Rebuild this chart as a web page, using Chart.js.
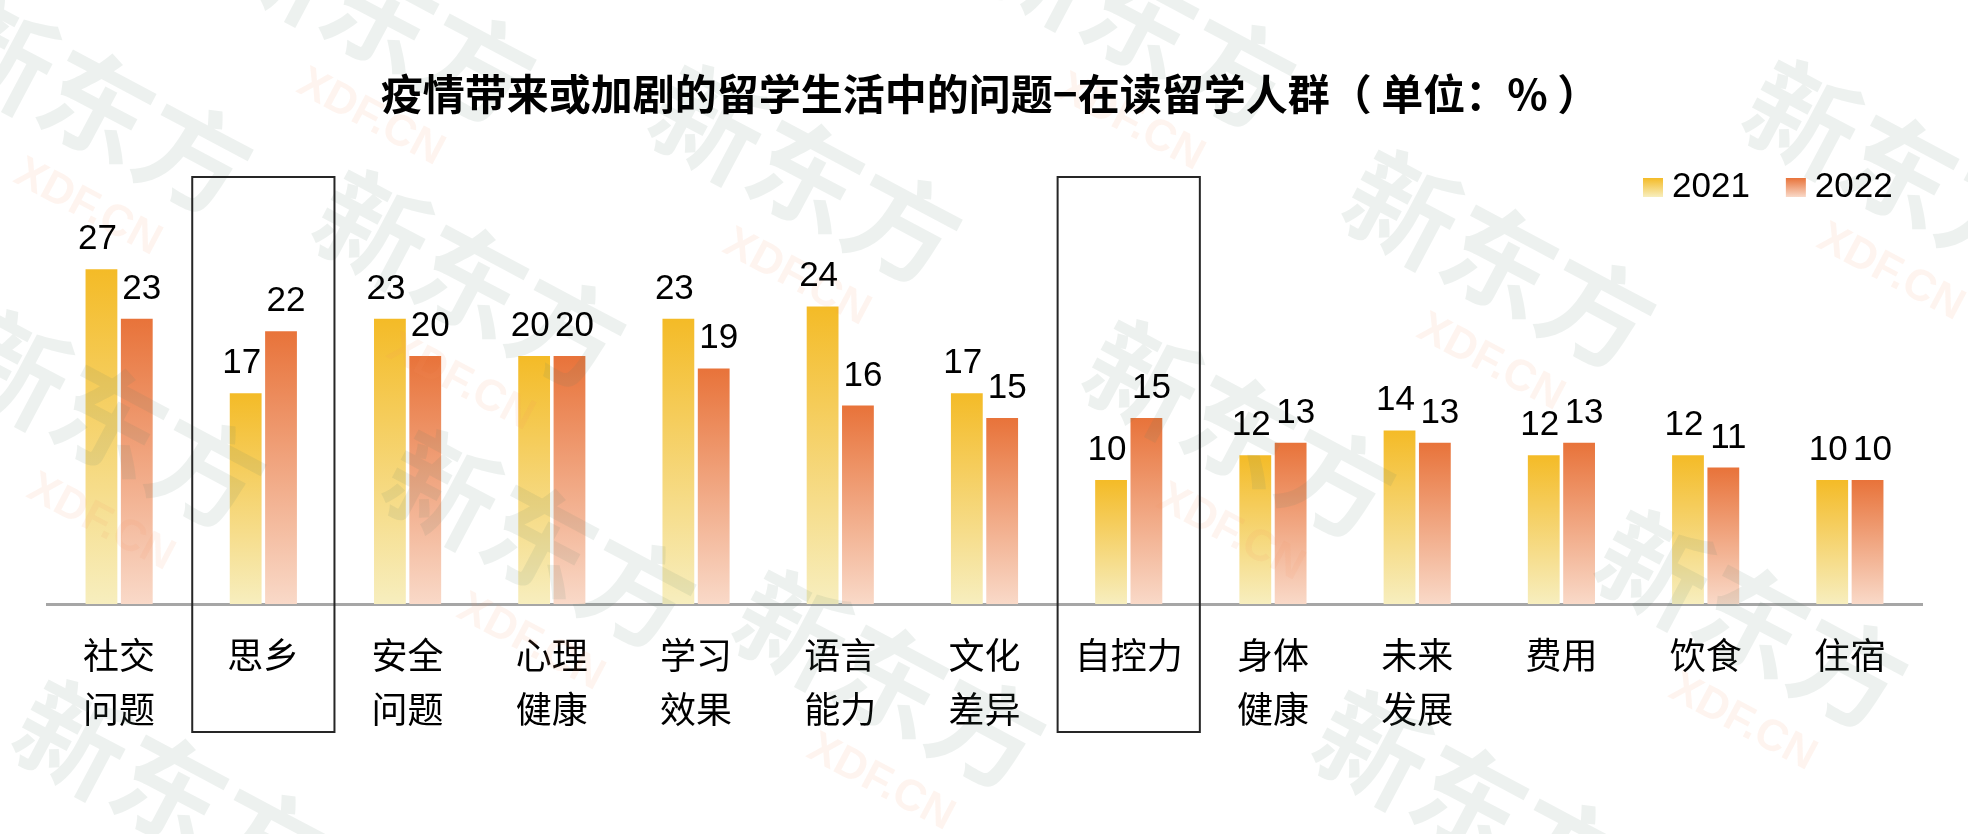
<!DOCTYPE html>
<html>
<head>
<meta charset="utf-8">
<script src="https://cdn.jsdelivr.net/npm/chart.js@4.4.1/dist/chart.umd.min.js"></script>
<style>
  html, body { margin: 0; padding: 0; background: #fff; }
  #wrap { width: 1968px; height: 834px; position: relative; }
</style>
</head>
<body>
<div id="wrap"><canvas id="chart" width="1968" height="834"></canvas></div>
<script>
const categories = [
  ["社交", "问题"], ["思乡"], ["安全", "问题"], ["心理", "健康"], ["学习", "效果"],
  ["语言", "能力"], ["文化", "差异"], ["自控力"], ["身体", "健康"], ["未来", "发展"],
  ["费用"], ["饮食"], ["住宿"]
];
const values2021 = [27, 17, 23, 20, 23, 24, 17, 10, 12, 14, 12, 12, 10];
const values2022 = [23, 22, 20, 20, 19, 16, 15, 15, 13, 13, 13, 11, 10];
const seriesNames = ["2021", "2022"];
const highlighted = [1, 7];
const chartTitle = "疫情带来或加剧的留学生活中的问题−在读留学人群（ 单位：% ）";

// top colour, bottom colour of each series gradient
const palettes = [
  ["#f4bb27", "#f7eebe"],
  ["#e8733a", "#f9d9c8"]
];

// rough spots of the faint "新东方 XDF.CN" watermark
const watermarkSpots = [
  [97, 105], [380, 15], [470, 280], [806, 175], [1140, 20], [1240, 430],
  [1500, 260], [1900, 170], [110, 420], [540, 540], [1752, 620],
  [170, 790], [890, 680], [1470, 800]
];

function barFill(i) {
  return function (context) {
    const chart = context.chart;
    if (!chart.chartArea || context.type !== "data") return palettes[i][0];
    const y = chart.scales.y;
    const top = y.getPixelForValue(context.parsed.y);
    const bottom = y.getPixelForValue(0);
    const g = chart.ctx.createLinearGradient(0, top, 0, bottom);
    g.addColorStop(0, palettes[i][0]);
    g.addColorStop(1, palettes[i][1]);
    return g;
  };
}

const decor = {
  id: "decor",
  afterDatasetsDraw(chart) {
    const ctx = chart.ctx;

    // watermark
    ctx.save();
    ctx.textAlign = "center";
    ctx.textBaseline = "middle";
    watermarkSpots.forEach(([wx, wy]) => {
      ctx.save();
      ctx.translate(wx, wy);
      ctx.rotate(28 * Math.PI / 180);
      ctx.font = 'bold 110px "Noto Sans CJK SC", sans-serif';
      ctx.fillStyle = "rgba(95, 130, 112, 0.11)";
      ctx.fillText("新东方", 0, 0);
      ctx.font = 'bold 44px "Liberation Sans", Arial, sans-serif';
      ctx.fillStyle = "rgba(242, 150, 95, 0.10)";
      ctx.fillText("XDF.CN", 40, 95);
      ctx.restore();
    });
    ctx.restore();

    // value labels
    ctx.save();
    ctx.font = '35px "Liberation Sans", Arial, sans-serif';
    ctx.fillStyle = "#000";
    ctx.textAlign = "center";
    ctx.textBaseline = "alphabetic";
    chart.data.datasets.forEach((ds, di) => {
      const shift = di === 0 ? -4 : 5;
      chart.getDatasetMeta(di).data.forEach((bar, i) => {
        ctx.fillText(String(ds.data[i]), bar.x + shift, bar.y - 20);
      });
    });
    ctx.restore();
  },
  afterDraw(chart) {
    const ctx = chart.ctx;
    const area = chart.chartArea;
    const x = chart.scales.x;
    const step = (area.right - area.left) / categories.length;

    // boxes round highlighted categories
    ctx.save();
    ctx.strokeStyle = "#262626";
    ctx.lineWidth = 2;
    highlighted.forEach(i => {
      const cx = x.getPixelForValue(i);
      ctx.strokeRect(cx - step / 2 + 1, area.bottom - 427, step - 2, 555);
    });
    ctx.restore();

    // title
    ctx.save();
    ctx.font = 'bold 42px "Noto Sans CJK SC", sans-serif';
    ctx.fillStyle = "#000";
    ctx.textAlign = "center";
    ctx.textBaseline = "middle";
    ctx.fillText(chartTitle, 990, 94);
    ctx.restore();

    // legend
    ctx.save();
    let lx = 1643;
    const ly = 178;
    ctx.font = '35px "Liberation Sans", Arial, sans-serif';
    ctx.textBaseline = "alphabetic";
    ctx.textAlign = "left";
    seriesNames.forEach((name, i) => {
      const g = ctx.createLinearGradient(0, ly, 0, ly + 19);
      g.addColorStop(0, palettes[i][0]);
      g.addColorStop(1, palettes[i][1]);
      ctx.fillStyle = g;
      ctx.fillRect(lx, ly, 20, 19);
      ctx.fillStyle = "#000";
      ctx.fillText(name, lx + 29, ly + 19);
      lx += 20 + 9 + ctx.measureText(name).width + 36;
    });
    ctx.restore();
  }
};

new Chart(document.getElementById("chart"), {
  type: "bar",
  data: {
    labels: categories,
    datasets: [
      { label: seriesNames[0], data: values2021, backgroundColor: barFill(0) },
      { label: seriesNames[1], data: values2022, backgroundColor: barFill(1) }
    ]
  },
  options: {
    responsive: false,
    animation: false,
    devicePixelRatio: 1,
    layout: { padding: { left: 47, right: 46, top: 232, bottom: 74 } },
    datasets: { bar: { categoryPercentage: 0.49, barPercentage: 0.9 } },
    plugins: {
      legend: { display: false },
      title: { display: false },
      tooltip: { enabled: false }
    },
    scales: {
      x: {
        grid: { display: false, drawTicks: false },
        border: { display: true, color: "#a6a6a6", width: 3 },
        ticks: {
          padding: 24,
          color: "#000",
          maxRotation: 0,
          autoSkip: false,
          font: { family: '"Noto Sans CJK SC", sans-serif', size: 36, lineHeight: 1.5 }
        }
      },
      y: { display: false, min: 0, max: 30 }
    }
  },
  plugins: [decor]
});
</script>
</body>
</html>
